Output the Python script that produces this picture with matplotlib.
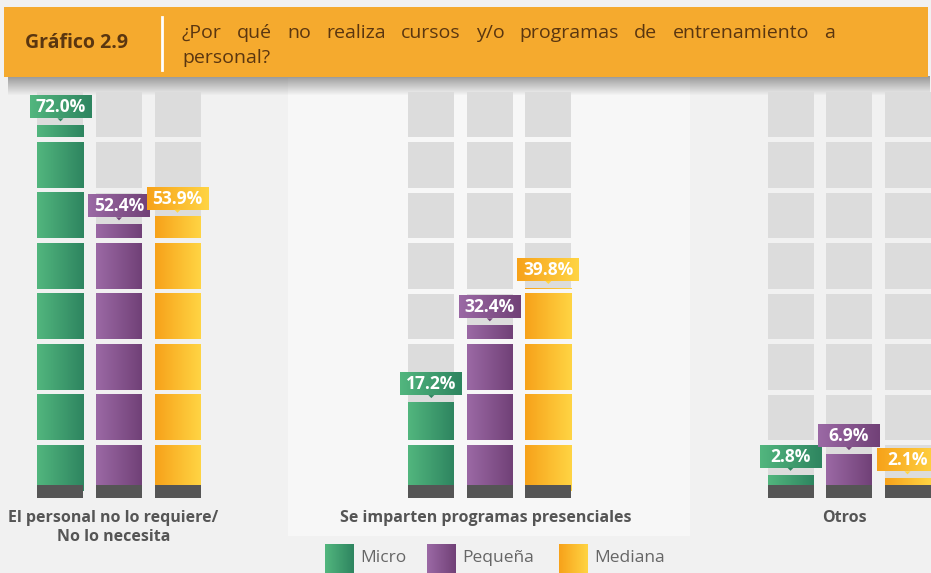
import numpy as np
import matplotlib.pyplot as plt
from matplotlib.colors import LinearSegmentedColormap
from matplotlib.patches import Rectangle, Polygon

# datos del gráfico 2.9
categories = ['El personal no lo requiere/\nNo lo necesita',
              'Se imparten programas presenciales',
              'Otros']
series = ['Micro', 'Pequeña', 'Mediana']
micro = [72.0, 17.2, 2.8]
pequena = [52.4, 32.4, 6.9]
mediana = [53.9, 39.8, 2.1]
values = [micro, pequena, mediana]

title_num = 'Gráfico 2.9'
title_line1 = '¿Por qué no realiza cursos y/o programas de entrenamiento a'
title_line2 = 'personal?'

# estilos / posiciones
grads = [('#52b67e', '#2e8560'), ('#9b69a5', '#714177'), ('#f7a21a', '#ffd443')]
font = 'Open Sans'
W, H = 931, 573
px_per_pct = 5.05
zero_px = 489
unit_px = 365.0
group_pos = [0, 1.016, 2]
bar_w = 46 / unit_px
step = 58.5 / unit_px

fig = plt.figure(figsize=(W / 100, H / 100), dpi=100)
fig.patch.set_facecolor('#f1f1f1')

# capa de fondo en pixeles
bg = fig.add_axes([0, 0, 1, 1])
bg.set_xlim(0, W)
bg.set_ylim(H, 0)
bg.axis('off')
bg.add_patch(Rectangle((288, 78), 402, 458, color='#f7f7f7', lw=0))

shadow = np.zeros((20, 1, 4))
shadow[..., :3] = 0.25
shadow[:, 0, 3] = np.linspace(0.5, 0, 20)
bg.imshow(shadow, extent=[8, 930, 96, 76], aspect='auto', zorder=2)
bg.add_patch(Rectangle((4, 7), 924, 70, color='#f5aa2e', lw=0, zorder=3))
bg.plot([162, 162], [17, 70], color='white', lw=2, zorder=4)
bg.text(25, 43, title_num, fontsize=14, fontweight='bold', color='#5a3610',
        va='center', ha='left', family=font, zorder=5)

# justificar la primera linea del titulo
fig.canvas.draw()
renderer = fig.canvas.get_renderer()
words = title_line1.split()
objs = [bg.text(0, 33, w, fontsize=14, color='#5a3610', va='center', ha='left',
                family=font, zorder=5) for w in words]
widths = [o.get_window_extent(renderer).width for o in objs]
gap = (835 - 182 - sum(widths)) / (len(words) - 1)
xpos = 182
for o, wd in zip(objs, widths):
    o.set_x(xpos)
    xpos += wd + gap
bg.text(182, 58, title_line2, fontsize=14, color='#5a3610', va='center', ha='left',
        family=font, zorder=5)

# leyenda
legend_x = [325, 427, 559]
for name, (c0, c1), lx in zip(series, grads, legend_x):
    cm = LinearSegmentedColormap.from_list(name, [c0, c1])
    bg.imshow(np.linspace(0, 1, 64)[None, :], cmap=cm, extent=[lx, lx + 29, 573, 544],
              aspect='auto', zorder=2)
    bg.text(lx + 35, 558, name, fontsize=12.5, color='#666666', va='center', ha='left',
            family=font)

# grafico
ax = fig.add_axes([0, 0, 1, 1])
ax.patch.set_alpha(0)
ax.axis('off')


def grad_rect(x0, x1, y0, y1, cmap, z=3):
    ax.imshow(np.linspace(0, 1, 64)[None, :], cmap=cmap, extent=[x0, x1, y0, y1],
              aspect='auto', zorder=z, interpolation='bilinear')


for i, (name, vals) in enumerate(zip(series, values)):
    cm = LinearSegmentedColormap.from_list(name, list(grads[i]))
    for j, v in enumerate(vals):
        x = group_pos[j] + (i - 1) * step
        x0, x1 = x - bar_w / 2, x + bar_w / 2
        for k in range(8):
            lo, hi = 10 * k - 0.3, 10 * k + 8.7
            ax.bar(x, hi - lo, bottom=lo, width=bar_w, color='#dcdcdc', zorder=2)
            if v > lo:
                grad_rect(x0, x1, lo, min(v, hi), cm)
        ax.bar(x, 2.6, bottom=-1.8, width=bar_w, color='#555555', zorder=4)
        # etiqueta
        bw, bh = 62 / unit_px, 4.36
        by = v + 1.4
        grad_rect(x - bw / 2, x + bw / 2, by, by + bh, cm, z=6)
        ax.add_patch(Polygon([[x - 3 / unit_px, by], [x + 3 / unit_px, by], [x, by - 0.6]],
                             closed=True, color=grads[i][1], lw=0, zorder=6))
        ax.text(x, by + bh / 2, f'{v:.1f}%', color='white', fontsize=12.5, fontweight='bold',
                ha='center', va='center', family=font, zorder=7)

for j, cat in enumerate(categories):
    ax.text(group_pos[j] - (0.015 if j == 0 else 0.012), -(510 - zero_px) / px_per_pct, cat,
            ha='center', va='top', fontsize=11.5, fontweight='bold', color='#555555',
            family=font, linespacing=1.25)

ax.set_xlim(-119 / unit_px, (W - 119) / unit_px)
ax.set_ylim(-(H - zero_px) / px_per_pct, zero_px / px_per_pct)

fig.savefig('out.png', dpi=100, facecolor=fig.get_facecolor())
